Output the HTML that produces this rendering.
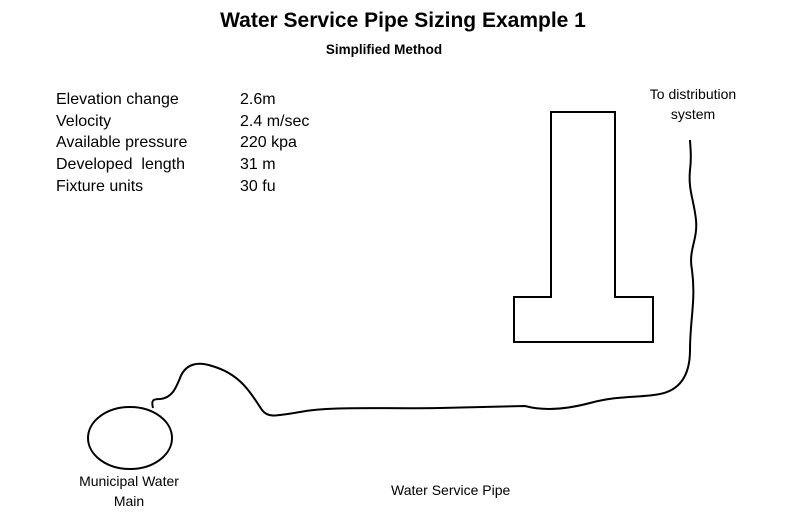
<!DOCTYPE html>
<html><head><style>
body{margin:0;width:794px;height:512px;background:#fff;font-family:"Liberation Sans",sans-serif;position:relative;overflow:hidden}
.t{position:absolute;white-space:nowrap;color:#000}
</style></head><body>
<div class="t" style="left:6px;width:794px;text-align:center;top:9px;font-size:21px;font-weight:bold">Water Service Pipe Sizing Example 1</div>
<div class="t" style="left:0;width:768px;text-align:center;top:42px;font-size:13.5px;font-weight:bold">Simplified Method</div>
<div class="t" style="left:56px;top:89px;font-size:16px;line-height:21.7px">Elevation change<br>Velocity<br>Available pressure<br>Developed&nbsp; length<br>Fixture units</div>
<div class="t" style="left:240px;top:89px;font-size:16px;line-height:21.7px">2.6m<br>2.4 m/sec<br>220 kpa<br>31 m<br>30 fu</div>
<div class="t" style="left:633px;top:84px;font-size:14px;line-height:20px;text-align:center;width:120px">To distribution<br>system</div>
<div class="t" style="left:69px;top:471px;font-size:14px;line-height:20px;text-align:center;width:120px">Municipal Water<br>Main</div>
<div class="t" style="left:391px;top:482px;font-size:14px">Water Service Pipe</div>
<svg width="794" height="512" style="position:absolute;left:0;top:0" fill="none" stroke="#000" stroke-width="2">
<path d="M551 297 V112 H615 V297 H653 V342 H514 V297 Z"/>
<ellipse cx="130" cy="438" rx="42" ry="31"/>
<path d="M153 408 C151 400 153 399 160 399 C172 398 176 388 180 378 C186 362 200 362 212 366 C240 374 250 392 262 410 C268 418 275 416 300 412 C330 406 380 409 440 408 L525 406 C540 410 560 411 590 403 C620 395 640 398 660 394 C680 390 690 375 690 350 C690 320 696 300 692 270 C688 250 698 240 696 220 C694 200 688 190 690 170 C692 155 690 145 690 140"/>
</svg>
</body></html>
